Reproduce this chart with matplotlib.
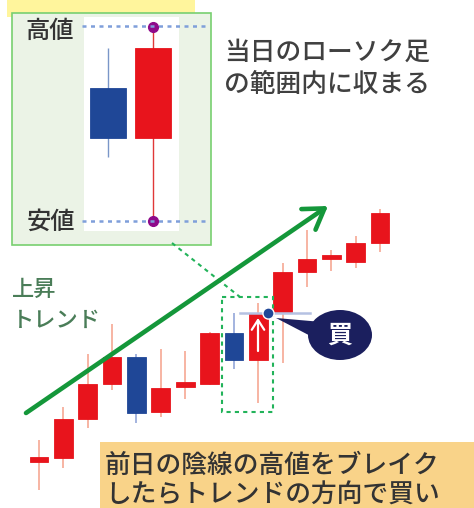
import matplotlib.pyplot as plt
from matplotlib.patches import Rectangle, Ellipse, Polygon

plt.rcParams['font.family'] = ['Noto Sans CJK JP', 'DejaVu Sans']

# main chart candles (arbitrary price units)
opens = [46, 50, 89, 124, 151, 96, 121, 124, 175, 148, 196, 236, 249, 246, 265]
highs = [68, 101, 154, 184, 154, 159, 157, 176, 195, 205, 245, 278, 258, 272, 299]
lows = [18, 40, 80, 118, 85, 91, 109, 123, 139, 105, 145, 221, 237, 240, 256]
closes = [51, 89, 124, 151, 95, 120, 126, 175, 148, 195, 236, 249, 253, 265, 295]

# zoomed-in pair of candles (previous day / current day)
inset_open = [68.6, 42.8]
inset_high = [89.2, 100]
inset_low = [33.0, 0]
inset_close = [42.8, 89.2]

RED, BLUE = '#e8141c', '#1f4797'
RED_WICK, BLUE_WICK = '#f5a08a', '#8a9fd6'

W, H = 474, 508
fig = plt.figure(figsize=(W / 100, H / 100), dpi=100)


def pix_axes(z):
    a = fig.add_axes([0, 0, 1, 1], zorder=z)
    a.set_xlim(0, W)
    a.set_ylim(H, 0)
    a.axis('off')
    a.patch.set_alpha(0)
    return a


def draw_candles(a, o, h, l, c, width, wick_lw, inset=False):
    for i in range(len(o)):
        up = c[i] >= o[i]
        col = RED if up else BLUE
        if inset:
            wick = '#e03838' if up else '#7a96c8'
        else:
            wick = RED_WICK if up else BLUE_WICK
        a.vlines(i, l[i], h[i], color=wick, lw=wick_lw, zorder=1)
        lo, hi = min(o[i], c[i]), max(o[i], c[i])
        a.add_patch(Rectangle((i - width / 2, lo), width, max(hi - lo, 4),
                              facecolor=col, edgecolor=col, lw=0.6, zorder=2))


bg = pix_axes(0)
# yellow title strip (cut off at the top)
bg.add_patch(Rectangle((7, -5), 188, 22, facecolor='#fff59c', edgecolor='none'))
# inset frame
bg.add_patch(Rectangle((12, 13), 199, 232, facecolor='#ebf3e6', edgecolor='#78cf70', lw=1.2))
bg.add_patch(Rectangle((84, 17), 95, 214, facecolor='white', edgecolor='none'))
# bottom note box
bg.add_patch(Rectangle((100, 442), 380, 70, facecolor='#f9d389', edgecolor='none'))

# main candles
cx = fig.add_axes([0, 0, 1, 1], zorder=1)
cx.axis('off')
cx.patch.set_alpha(0)
step = 24.36
cx.set_xlim(-39 / step, (W - 39) / step)
cx.set_ylim(0, H)
draw_candles(cx, opens, highs, lows, closes, 0.77, 1.1)

# inset candles
ix = fig.add_axes([84 / W, (H - 231) / H, 95 / W, 214 / H], zorder=2)
ix.axis('off')
ix.patch.set_alpha(0)
ix.set_xlim(-24 / 45, 71 / 45)
ix.set_ylim(-10 / 1.94, 100 + 10 / 1.94)
draw_candles(ix, inset_open, inset_high, inset_low, inset_close, 0.78, 1.0, inset=True)
ix.plot([1, 1], [inset_high[1], inset_low[1]], 'o', color='#8e0a8a', ms=7, zorder=5,
        clip_on=False)

fg = pix_axes(3)
# high / low guide lines in inset
for yy in (26, 221):
    fg.plot([82, 207], [yy, yy], color='#7f9fda', lw=1.8, ls=(0, (1.6, 1.8)), zorder=1)
fg.text(50, 31, '高値', fontsize=17.5, color='#333333', ha='center', va='center',
        fontweight='medium')
fg.text(51, 222, '安値', fontsize=17.5, color='#333333', ha='center', va='center',
        fontweight='medium')

fg.text(224, 52, '当日のローソク足', fontsize=18.5, color='#404040', va='center',
        fontweight='medium')
fg.text(224, 84, 'の範囲内に収まる', fontsize=18.5, color='#404040', va='center',
        fontweight='medium')

fg.text(12, 289, '上昇', fontsize=16, color='#4a7d58', va='center', fontweight='medium')
fg.text(12, 320, 'トレンド', fontsize=16, color='#4a7d58', va='center', fontweight='medium')

fg.text(105, 465, '前日の陰線の高値をブレイク', fontsize=18.5, color='#333333', va='center',
        fontweight='medium')
fg.text(105, 495, 'したらトレンドの方向で買い', fontsize=18.5, color='#333333', va='center',
        fontweight='medium')

# dashed selection around the signal candles and link to the inset
grn = '#22b35a'
fg.add_patch(Rectangle((222, 297), 51, 115, facecolor='none', edgecolor=grn,
                       lw=1.5, ls=(0, (2, 2))))
fg.plot([172, 240], [243, 297], color=grn, lw=1.5, ls=(0, (2, 2)))

# trend arrow
fg.annotate('', xy=(328, 206), xytext=(26, 413),
            arrowprops=dict(arrowstyle='->,head_length=1.4,head_width=0.9',
                            lw=3.3, color='#14973a', shrinkA=0, shrinkB=0))

# white up arrow on breakout candle
fg.annotate('', xy=(258, 318), xytext=(258, 351),
            arrowprops=dict(arrowstyle='->,head_length=0.7,head_width=0.45',
                            lw=1.6, color='white', shrinkA=0, shrinkB=0))

# breakout level and entry point
fg.plot([240, 310], [313, 313], color='#b5c1e2', lw=1.8, zorder=1)
fg.plot(268, 313, 'o', color=BLUE, ms=8, mec='white', mew=1, zorder=4)

# "buy" callout
navy = '#1b1f5e'
fg.add_patch(Polygon([(276, 318), (322, 322), (322, 342)], closed=True,
                     facecolor=navy, edgecolor='none'))
fg.add_patch(Ellipse((340, 335), 64, 50, facecolor=navy, edgecolor='none'))
fg.text(340, 336, '買', fontsize=18, color='white', fontweight='bold',
        ha='center', va='center')

fig.savefig('out.png', dpi=100)
